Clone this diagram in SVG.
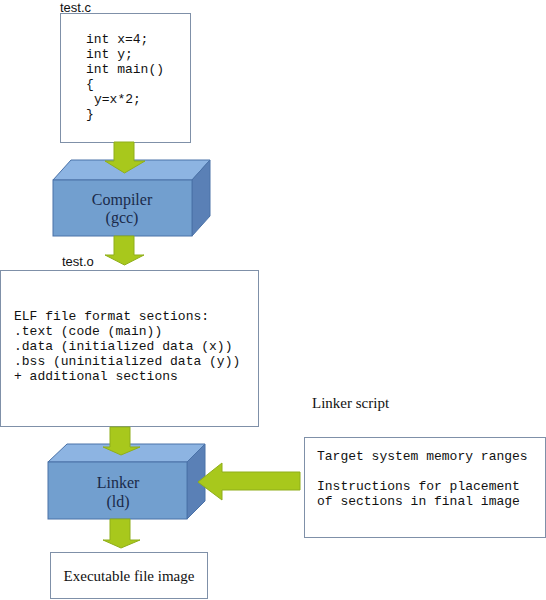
<svg xmlns="http://www.w3.org/2000/svg" width="546" height="600" viewBox="0 0 546 600">
<style>
.box{fill:#ffffff;stroke:#7f90a8;stroke-width:1}
.mono{font-family:"Liberation Mono","DejaVu Sans Mono",monospace;font-size:13px;fill:#111}
.serif{font-family:"Liberation Serif","Times New Roman",serif;font-size:15px;fill:#111}
.sans{font-family:"Liberation Sans",Arial,sans-serif;font-size:13px;fill:#111}
.front{fill:#729fcf;stroke:#4a72a8;stroke-width:1}
.top{fill:#8db4e2;stroke:#4a72a8;stroke-width:1}
.side{fill:#5a80b6;stroke:#4a72a8;stroke-width:1}
.arrow{fill:#a8c81c;stroke:#8fae1a;stroke-width:1}
.boxtext{font-family:"Liberation Serif","Times New Roman",serif;font-size:16px;fill:#1a2a4a}
</style>
<rect width="546" height="600" fill="#ffffff"/>
<g id="test_c">
<text class="sans" x="60" y="11.5">test.c</text>
<rect class="box" x="60.5" y="13.5" width="130" height="129"/>
<text class="mono" x="86" y="43">int x=4;</text>
<text class="mono" x="86" y="58">int y;</text>
<text class="mono" x="86" y="73">int main()</text>
<text class="mono" x="86" y="88">{</text>
<text class="mono" x="94" y="103">y=x*2;</text>
<text class="mono" x="86" y="118">}</text>
</g>
<g id="compiler">
<polygon class="top" points="53,180 71,160 210,160 192,180"/>
<polygon class="side" points="192,180 210,160 210,216 192,236"/>
<rect class="front" x="53" y="180" width="139" height="56"/>
<text class="boxtext" x="122" y="205" text-anchor="middle">Compiler</text>
<text class="boxtext" x="122" y="223" text-anchor="middle">(gcc)</text>
</g>
<g id="test_o">
<text class="sans" x="62" y="266">test.o</text>
<rect class="box" x="0.5" y="270.5" width="258" height="156"/>
<text class="mono" x="14" y="320">ELF file format sections:</text>
<text class="mono" x="14" y="335">.text (code (main))</text>
<text class="mono" x="14" y="350">.data (initialized data (x))</text>
<text class="mono" x="14" y="365">.bss (uninitialized data (y))</text>
<text class="mono" x="14" y="380">+ additional sections</text>
</g>
<g id="linker">
<polygon class="top" points="48,462 67,444 205,444 187,462"/>
<polygon class="side" points="187,462 205,444 205,501 187,519"/>
<rect class="front" x="48" y="462" width="139" height="57"/>
<text class="boxtext" x="118" y="488" text-anchor="middle">Linker</text>
<text class="boxtext" x="118" y="507" text-anchor="middle">(ld)</text>
</g>
<g id="linker_script">
<text class="serif" x="312" y="408">Linker script</text>
<rect class="box" x="304.5" y="437.5" width="241" height="100"/>
<text class="mono" x="317" y="460">Target system memory ranges</text>
<text class="mono" x="317" y="490">Instructions for placement</text>
<text class="mono" x="317" y="505">of sections in final image</text>
</g>
<g id="executable">
<rect class="box" x="50.5" y="552.5" width="157" height="46"/>
<text class="serif" x="129" y="581" text-anchor="middle">Executable file image</text>
</g>
<g id="connectors">
<polygon class="arrow" points="114,142 134,142 134,161 145,161 124.5,173 105,161 114,161"/>
<polygon class="arrow" points="114,236 134,236 134,255 144,255 124.5,265 105,255 114,255"/>
<polygon class="arrow" points="110,427 130,427 130,447 140,447 121,455 103,447 110,447"/>
<polygon class="arrow" points="110,519 130,519 130,540 140,540 121,548 103,540 110,540"/>
<polygon class="arrow" points="300,472 300,490 222,490 222,500 198,482 222,463 222,472"/>
</g>
</svg>
